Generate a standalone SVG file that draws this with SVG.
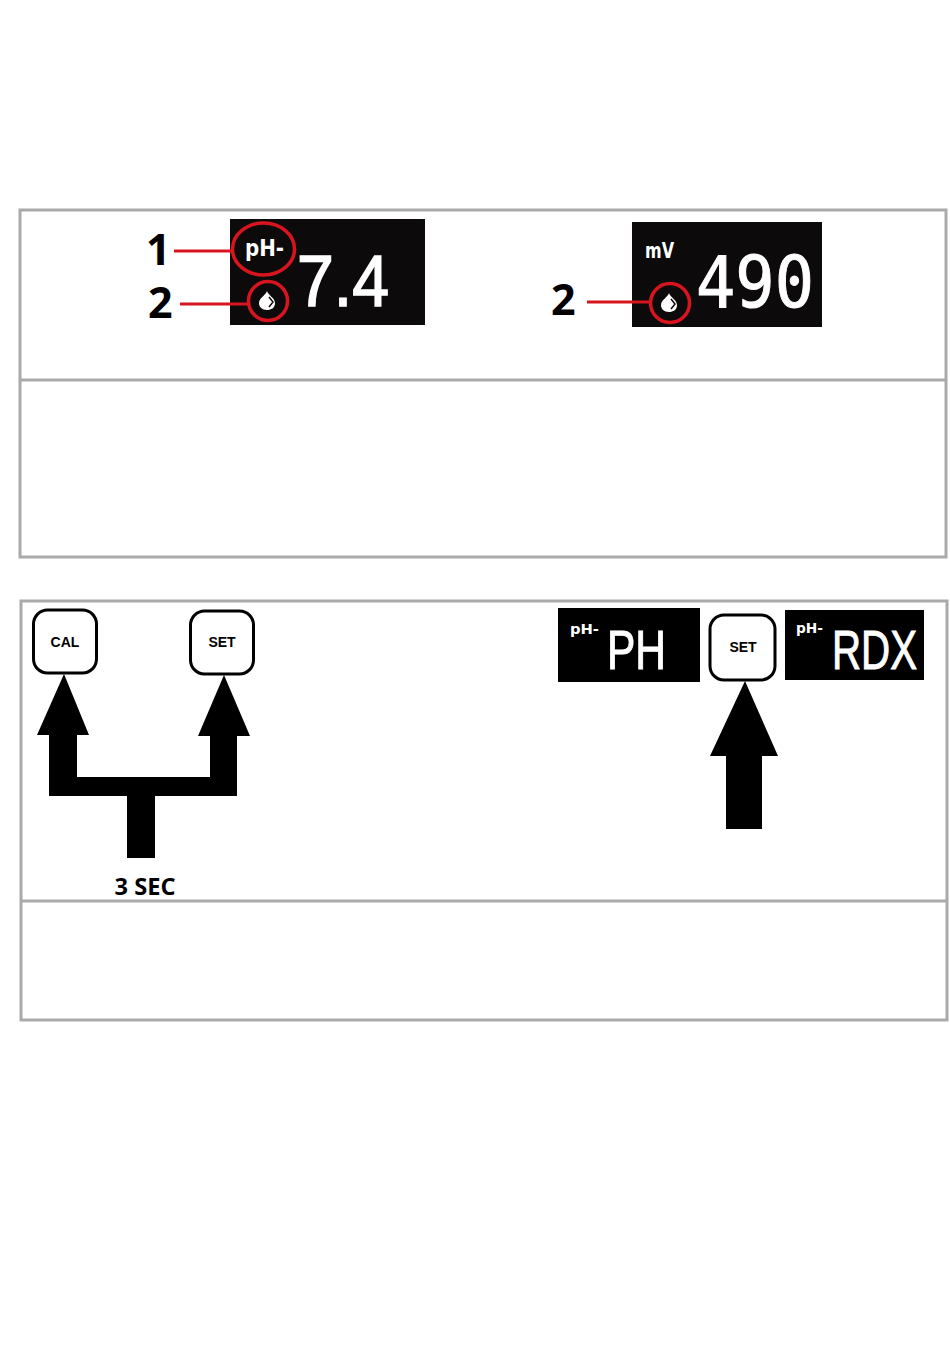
<svg xmlns="http://www.w3.org/2000/svg" width="950" height="1360" viewBox="0 0 950 1360">
<style>
.frame{fill:none;stroke:#aaaaaa;stroke-width:3}
.screen{fill:#000}
.dark{fill:#0d0a0c}
.ring{fill:none;stroke:#d8151f;stroke-width:3.500}
.lead{stroke:#d8151f;stroke-width:3;fill:none}
.num{font-family:"Open Sans","Liberation Sans",sans-serif;font-weight:700;fill:#000}
.lcd{font-family:"Liberation Sans",sans-serif;fill:#fff;stroke:#fff;stroke-width:1.600}
.lcdm{font-family:"DejaVu Sans Mono",monospace;fill:#fff;stroke:#fff;stroke-width:1}
.lcdb{font-family:"DejaVu Sans",sans-serif;font-weight:700;fill:#fff}
.key{fill:#fff;stroke:#000;stroke-width:3}
.keyt{font-family:"Liberation Sans",sans-serif;font-weight:700;font-size:14px;fill:#000;text-anchor:middle}
.drop{fill:#fff}
.notch{fill:none;stroke:#0d0a0c;stroke-width:1.500}
</style>
<defs>
<g id="drop"><path class="drop" d="M0,-10C1,-6 8,-3 8,2C8,7 4,9 0,9C-5,9 -8,6 -8,2C-8,-3 -1,-6 0,-10Z"/><path class="notch" d="M2,-4L6,1L2,6"/></g>
</defs>
<rect width="950" height="1360" fill="#fff"/>
<g id="panel-top">
<rect class="frame" x="20" y="210" width="926" height="347"/>
<line class="frame" x1="20" y1="380" x2="946" y2="380"/>
</g>
<g id="panel-bottom">
<rect class="frame" x="21" y="601" width="926" height="419"/>
<line class="frame" x1="21" y1="901" x2="947" y2="901"/>
</g>
<g id="display-ph">
<rect class="dark" x="230" y="219" width="195" height="106"/>
<text class="lcdb" x="245" y="256" font-size="23" textLength="39" lengthAdjust="spacingAndGlyphs">pH-</text>
<text class="lcd" x="297" y="306" font-size="73" textLength="92" lengthAdjust="spacingAndGlyphs">7.4</text>
<use href="#drop" x="267" y="301"/>
<ellipse class="ring" cx="263.500" cy="249" rx="31" ry="26"/>
<circle class="ring" cx="268" cy="301" r="19.500"/>
</g>
<g id="display-mv">
<rect class="dark" x="632" y="222" width="190" height="105"/>
<text class="lcdb" x="645" y="258" font-size="21" textLength="29" lengthAdjust="spacingAndGlyphs">mV</text>
<text class="lcdm" x="696" y="307" font-size="72" textLength="118" lengthAdjust="spacingAndGlyphs">490</text>
<use href="#drop" x="669" y="303"/>
<circle class="ring" cx="670" cy="303" r="19.500"/>
</g>
<g id="callouts">
<line class="lead" x1="174" y1="251" x2="234" y2="251"/>
<line class="lead" x1="180" y1="304" x2="249" y2="304"/>
<line class="lead" x1="587" y1="302" x2="650" y2="302"/>
<text class="num" x="146" y="265" font-size="43">1</text>
<text class="num" x="148" y="318" font-size="43">2</text>
<text class="num" x="551" y="315" font-size="43">2</text>
</g>
<g id="key-cal">
<rect class="key" x="33.500" y="610" width="63" height="63" rx="14"/>
<text class="keyt" x="65" y="647">CAL</text>
</g>
<g id="key-set-left">
<rect class="key" x="190.500" y="611" width="63" height="63" rx="14"/>
<text class="keyt" x="222" y="647">SET</text>
</g>
<g id="key-set-right">
<rect class="key" x="710" y="615" width="65" height="65" rx="14"/>
<text class="keyt" x="743" y="652">SET</text>
</g>
<g id="display-ph-mode">
<rect class="screen" x="558" y="608" width="142" height="74"/>
<text class="lcdb" x="570" y="634" font-size="14" textLength="29" lengthAdjust="spacingAndGlyphs">pH-</text>
<text class="lcd" x="607" y="669" font-size="55" textLength="59" lengthAdjust="spacingAndGlyphs" style="stroke-width:1">PH</text>
</g>
<g id="display-rdx-mode">
<rect class="screen" x="785" y="610" width="139" height="70"/>
<text class="lcdb" x="796" y="633" font-size="14" textLength="27" lengthAdjust="spacingAndGlyphs">pH-</text>
<text class="lcd" x="832" y="669" font-size="55" textLength="85" lengthAdjust="spacingAndGlyphs" style="stroke-width:1">RDX</text>
</g>
<g id="connectors">
<path d="M64,674L89,735L77,735L77,777L210,777L210,736L198,736L224,675L250,736L237,736L237,796L155,796L155,858L127,858L127,796L49,796L49,735L37,735Z" fill="#000"/>
<path d="M745,681L778,756L762,756L762,829L726,829L726,756L710,756Z" fill="#000"/>
</g>
<text id="label-3sec" class="num" x="145" y="895" font-size="24" text-anchor="middle" textLength="61" lengthAdjust="spacingAndGlyphs">3 SEC</text>
</svg>
